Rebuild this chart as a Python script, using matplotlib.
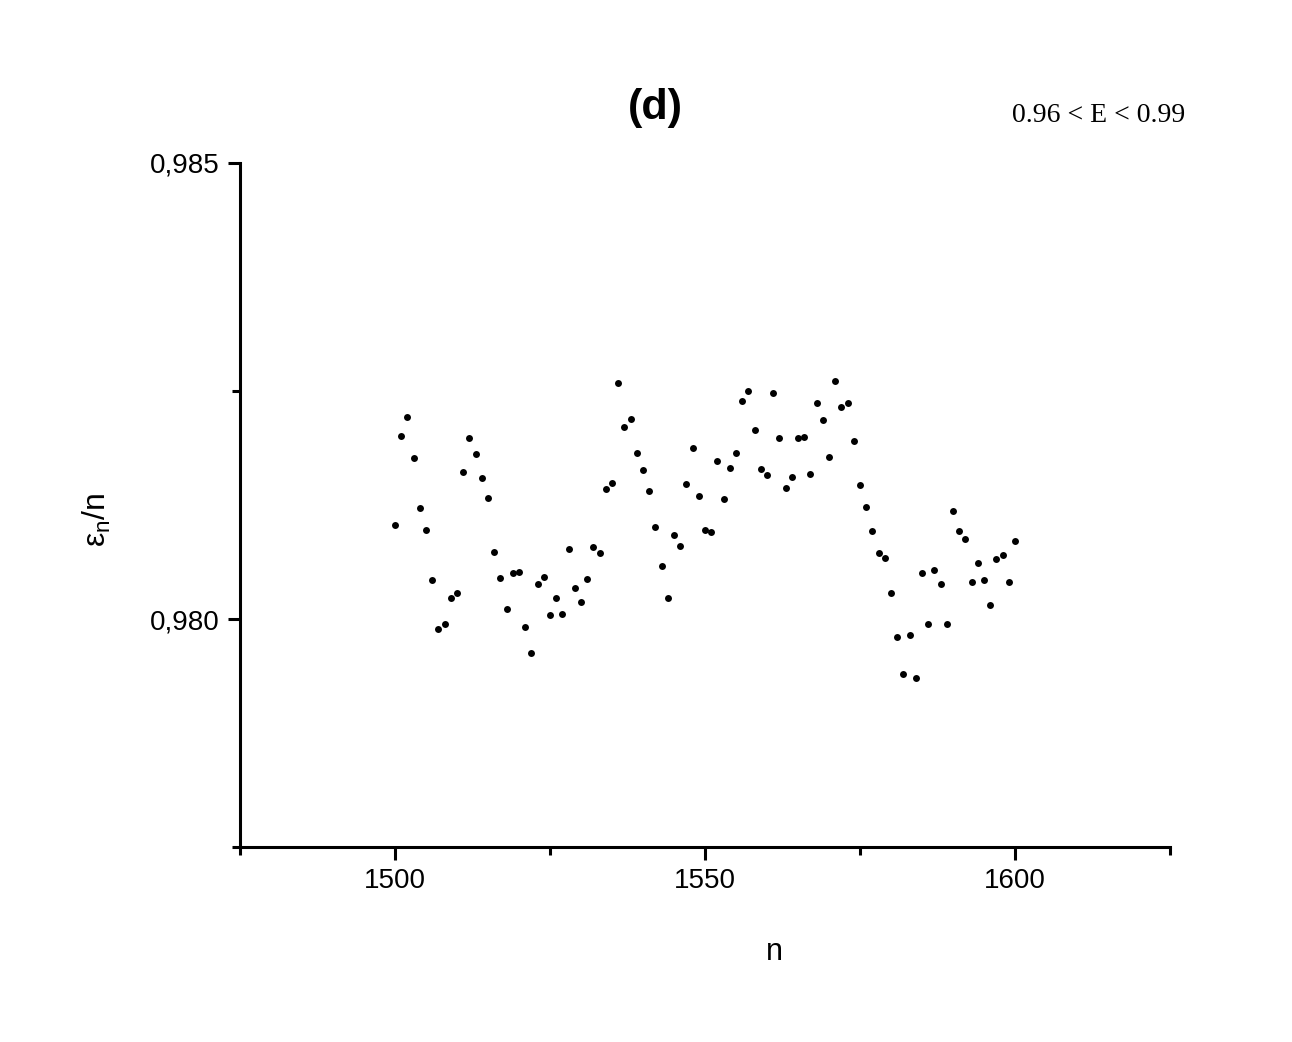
import matplotlib
matplotlib.use("Agg")
import matplotlib.pyplot as plt
from matplotlib.ticker import FixedLocator, FuncFormatter

plt.rcParams['font.family'] = ['Liberation Sans', 'DejaVu Sans']
plt.rcParams['mathtext.default'] = 'regular'

# n from 1500 to 1600, one point per step
n_values = list(range(1500, 1601))
eps_over_n = [
    0.98103, 0.98201, 0.98221, 0.98177, 0.98122, 0.98098, 0.98043, 0.97989, 0.97994, 0.98023,
    0.98029, 0.98161, 0.98198, 0.98181, 0.98155, 0.98133, 0.98074, 0.98045, 0.98011, 0.98051,
    0.98052, 0.97991, 0.97963, 0.98038, 0.98046, 0.98004, 0.98023, 0.98005, 0.98077, 0.98034,
    0.98019, 0.98044, 0.98079, 0.98072, 0.98143, 0.98149, 0.98259, 0.98211, 0.98219, 0.98182,
    0.98163, 0.98140, 0.98101, 0.98058, 0.98023, 0.98092, 0.98080, 0.98148, 0.98187, 0.98135,
    0.98098, 0.98095, 0.98173, 0.98132, 0.98166, 0.98182, 0.98239, 0.98250, 0.98207, 0.98165,
    0.98158, 0.98248, 0.98198, 0.98144, 0.98156, 0.98198, 0.98200, 0.98159, 0.98237, 0.98218,
    0.98178, 0.98261, 0.98232, 0.98237, 0.98195, 0.98147, 0.98123, 0.98097, 0.98072, 0.98067,
    0.98028, 0.97980, 0.97940, 0.97982, 0.97935, 0.98050, 0.97995, 0.98054, 0.98038, 0.97994,
    0.98118, 0.98096, 0.98088, 0.98041, 0.98061, 0.98043, 0.98015, 0.98066, 0.98070, 0.98041,
    0.98086,
]

x_major = [1500, 1550, 1600]
x_minor = [1475, 1525, 1575, 1625]
y_major = [0.980, 0.985]
y_minor = [0.9775, 0.9825]

fig = plt.figure(figsize=(12.92, 10.42), dpi=100)
ax = fig.add_axes([0.1858, 0.1871, 0.9056 - 0.1858, 0.8436 - 0.1871])

ax.plot(n_values, eps_over_n, 'o', color='black', markersize=5, markeredgewidth=0)

ax.set_xlim(1475, 1625)
ax.set_ylim(0.9775, 0.985)

ax.spines['top'].set_visible(False)
ax.spines['right'].set_visible(False)
ax.spines['left'].set_linewidth(2.2)
ax.spines['bottom'].set_linewidth(2.2)
ax.spines['left'].set_capstyle('projecting')
ax.spines['bottom'].set_capstyle('projecting')

ax.xaxis.set_major_locator(FixedLocator(x_major))
ax.xaxis.set_minor_locator(FixedLocator(x_minor))
ax.yaxis.set_major_locator(FixedLocator(y_major))
ax.yaxis.set_minor_locator(FixedLocator(y_minor))
ax.yaxis.set_major_formatter(FuncFormatter(lambda v, p: "{:.3f}".format(v).replace('.', ',')))

ax.tick_params(which='major', direction='out', length=9, width=2.2, labelsize=20, pad=6)
ax.tick_params(which='minor', direction='out', length=6, width=2.2)
for lbl in ax.get_xticklabels() + ax.get_yticklabels():
    lbl.set_fontstretch('condensed')

ax.set_xlabel('n', fontsize=22)
ax.xaxis.set_label_coords(0.575, -0.131)
ax.set_ylabel('ε$_n$/n', fontsize=23)
ax.yaxis.set_label_coords(-0.137, 0.478)

fig.text(0.507, 0.896, '(d)', fontsize=31, fontweight='bold', ha='center', va='center')
fig.text(0.8506, 0.8896, '0.96 < E < 0.99', fontsize=20, ha='center', va='center',
         family='Liberation Serif')

fig.savefig('out.png', dpi=100)
